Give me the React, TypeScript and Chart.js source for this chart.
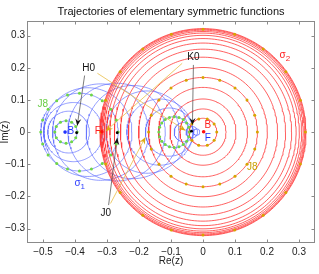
import { useEffect, useRef } from 'react';
import { Chart, registerables } from 'chart.js';

Chart.register(...registerables);

const FONT = '"Liberation Sans", Arial, Helvetica, sans-serif';
const TITLE = 'Trajectories of elementary symmetric functions';
const X_TICKS = [-0.5, -0.4, -0.3, -0.2, -0.1, 0, 0.1, 0.2, 0.3];
const Y_TICKS = [-0.3, -0.2, -0.1, 0, 0.1, 0.2, 0.3];

// sigma_1 trajectories: circles (centre on real axis, radius)
const SIGMA1_CENTERS = [-0.428, -0.42, -0.405, -0.386, -0.36, -0.32, -0.27, -0.22, -0.175, -0.135, -0.105, -0.09, -0.06, -0.035, -0.02];
const SIGMA1_RADII = [0.035, 0.065, 0.092, 0.121, 0.138, 0.15, 0.152, 0.145, 0.128, 0.103, 0.075, 0.048, 0.03, 0.018, 0.01];

// sigma_2 trajectories: circles (centre on real axis, radius)
const SIGMA2_CENTERS = [0, 0, 0, 0, 0, 0, 0, 0, 0, 0, 0, 0, 0, 0, 0, 0];
const SIGMA2_RADII = [0.043, 0.072, 0.103, 0.139, 0.17, 0.201, 0.233, 0.258, 0.277, 0.291, 0.301, 0.308, 0.313, 0.317, 0.32, 0.322];

// dotted J8 rings
const GREEN_RING_CENTERS = [-0.428, -0.386, -0.09];
const GREEN_RING_RADII = [0.035, 0.121, 0.048];
const GREEN_RING_DOTS = [12, 20, 20];
const ORANGE_RING_CENTERS = [0, 0, 0];
const ORANGE_RING_RADII = [0.043, 0.17, 0.32];
const ORANGE_RING_DOTS = [10, 20, 20];

// marker points
const BLUE_POINTS = [[-0.431, 0]];
const RED_POINTS = [[-0.316, 0.001], [0.002, 0.001]];
const BLACK_POINTS = [[-0.395, -0.002], [-0.268, -0.002], [-0.036, 0.003]];

// annotation arrows (from label to point)
const BLACK_ARROW_FROM = [[-0.37, 0.176], [-0.03, 0.209], [-0.295, -0.227]];
const BLACK_ARROW_TO = [[-0.393, 0.02], [-0.033, 0.022], [-0.268, -0.018]];
const ORANGE_ARROW_FROM = [[-0.33, 0.183], [-0.065, 0.214], [-0.289, -0.222]];
const ORANGE_ARROW_TO = [[-0.055, 0.005], [-0.304, 0.003], [-0.18, -0.016]];

// text labels
const LABEL_TEXT = ['H0', 'K0', 'J0', 'J8', 'J8', 'F', 'B', 'B', 'F'];
const LABEL_POS = [[-0.357, 0.199], [-0.03, 0.234], [-0.304, -0.252], [-0.501, 0.087], [0.154, -0.109], [-0.329, 0.003], [-0.413, 0.003], [0.015, 0.022], [0.015, -0.019]];
const LABEL_COLOR = ['#111', '#111', '#111', '#66cc44', '#c9a000', '#ff2020', '#2233ff', '#ff2020', '#2233ff'];
const SIGMA_TEXT = ['1', '2'];
const SIGMA_POS = [[-0.392, -0.159], [0.249, 0.24]];
const SIGMA_COLOR = ['#3344ff', '#ff2020'];

const BLUE = 'rgba(95,110,255,0.85)';
const RED = 'rgba(255,60,60,0.9)';
const GREEN_DOT = 'rgb(110,215,70)';
const ORANGE_DOT = 'rgb(215,165,0)';
const ORANGE_LINE = 'rgb(232,190,70)';

function circlePoints(cx: number, cy: number, r: number, n: number) {
  const pts = [];
  for (let i = 0; i <= n; i++) {
    const a = (2 * Math.PI * i) / n;
    pts.push({ x: cx + r * Math.cos(a), y: cy + r * Math.sin(a) });
  }
  return pts;
}

function ringDots(cx: number, r: number, n: number) {
  const pts = [];
  for (let i = 0; i < n; i++) {
    const a = (2 * Math.PI * i) / n;
    pts.push({ x: cx + r * Math.cos(a), y: r * Math.sin(a) });
  }
  return pts;
}

function fmt(v: number) {
  if (Math.abs(v) < 1e-9) return '0';
  return (v < 0 ? '\u2212' : '') + Math.abs(v).toFixed(1);
}

function arrowHead(ctx: CanvasRenderingContext2D, x0: number, y0: number, x1: number, y1: number, len: number, half: number, color: string) {
  const a = Math.atan2(y1 - y0, x1 - x0);
  const bx = x1 - len * Math.cos(a);
  const by = y1 - len * Math.sin(a);
  const nx = -Math.sin(a);
  const ny = Math.cos(a);
  const mx = x1 - len * 0.65 * Math.cos(a);
  const my = y1 - len * 0.65 * Math.sin(a);
  ctx.beginPath();
  ctx.moveTo(x1, y1);
  ctx.lineTo(bx + nx * half, by + ny * half);
  ctx.lineTo(mx, my);
  ctx.lineTo(bx - nx * half, by - ny * half);
  ctx.closePath();
  ctx.fillStyle = color;
  ctx.fill();
}

const annotatePlugin = {
  id: 'annotate',
  afterDatasetsDraw(chart: any) {
    const { ctx, chartArea, scales } = chart;
    const xs = scales.x;
    const ys = scales.y;
    const px = (v: number) => xs.getPixelForValue(v);
    const py = (v: number) => ys.getPixelForValue(v);
    ctx.save();
    // arrow heads
    BLACK_ARROW_FROM.forEach((f, i) => {
      const t = BLACK_ARROW_TO[i];
      arrowHead(ctx, px(f[0]), py(f[1]), px(t[0]), py(t[1]), 7, 3, '#111');
    });
    ORANGE_ARROW_FROM.forEach((f, i) => {
      const t = ORANGE_ARROW_TO[i];
      arrowHead(ctx, px(f[0]), py(f[1]), px(t[0]), py(t[1]), 7, 3, 'rgb(220,170,20)');
    });
    // labels
    ctx.textAlign = 'center';
    ctx.textBaseline = 'middle';
    ctx.font = '10px ' + FONT;
    LABEL_TEXT.forEach((s, i) => {
      ctx.fillStyle = LABEL_COLOR[i];
      ctx.fillText(s, px(LABEL_POS[i][0]), py(LABEL_POS[i][1]));
    });
    SIGMA_TEXT.forEach((s, i) => {
      const x = px(SIGMA_POS[i][0]);
      const y = py(SIGMA_POS[i][1]);
      ctx.fillStyle = SIGMA_COLOR[i];
      ctx.font = '10px ' + FONT;
      ctx.textAlign = 'center';
      ctx.fillText('\u03c3', x, y);
      ctx.font = '8px ' + FONT;
      ctx.textAlign = 'left';
      ctx.fillText(s, x + 3, y + 4);
    });
    // frame and inward ticks
    const l = Math.round(chartArea.left) + 0.5;
    const r = Math.round(chartArea.right) - 0.5;
    const t = Math.round(chartArea.top) + 0.5;
    const b = Math.round(chartArea.bottom) - 0.5;
    ctx.strokeStyle = '#8a8a8a';
    ctx.lineWidth = 1;
    ctx.strokeRect(l, t, r - l, b - t);
    ctx.beginPath();
    X_TICKS.forEach((v) => {
      const x = Math.round(px(v)) + 0.5;
      ctx.moveTo(x, b);
      ctx.lineTo(x, b - 3);
      ctx.moveTo(x, t);
      ctx.lineTo(x, t + 3);
    });
    Y_TICKS.forEach((v) => {
      const y = Math.round(py(v)) + 0.5;
      ctx.moveTo(l, y);
      ctx.lineTo(l + 3, y);
      ctx.moveTo(r, y);
      ctx.lineTo(r - 3, y);
    });
    ctx.stroke();
    ctx.restore();
  },
};

export default function App() {
  const ref = useRef<HTMLCanvasElement | null>(null);

  useEffect(() => {
    if (!ref.current) return;
    const datasets: any[] = [];
    SIGMA1_CENTERS.forEach((c, i) => {
      datasets.push({
        data: circlePoints(c, 0, SIGMA1_RADII[i], 160),
        showLine: true, borderColor: BLUE, borderWidth: 0.8, pointRadius: 0, order: 5,
      });
    });
    SIGMA2_CENTERS.forEach((c, i) => {
      datasets.push({
        data: circlePoints(c, 0, SIGMA2_RADII[i], 200),
        showLine: true, borderColor: RED, borderWidth: 0.9, pointRadius: 0, order: 4,
      });
    });
    ORANGE_ARROW_FROM.forEach((f, i) => {
      const t = ORANGE_ARROW_TO[i];
      datasets.push({
        data: [{ x: f[0], y: f[1] }, { x: t[0], y: t[1] }],
        showLine: true, borderColor: ORANGE_LINE, borderWidth: 0.8, pointRadius: 0, order: 3,
      });
    });
    BLACK_ARROW_FROM.forEach((f, i) => {
      const t = BLACK_ARROW_TO[i];
      datasets.push({
        data: [{ x: f[0], y: f[1] }, { x: t[0], y: t[1] }],
        showLine: true, borderColor: '#444', borderWidth: 0.7, pointRadius: 0, order: 2,
      });
    });
    GREEN_RING_CENTERS.forEach((c, i) => {
      datasets.push({
        data: ringDots(c, GREEN_RING_RADII[i], GREEN_RING_DOTS[i]),
        showLine: false, pointRadius: 1.5, pointBackgroundColor: GREEN_DOT, pointBorderWidth: 0, order: 1,
      });
    });
    ORANGE_RING_CENTERS.forEach((c, i) => {
      datasets.push({
        data: ringDots(c, ORANGE_RING_RADII[i], ORANGE_RING_DOTS[i]),
        showLine: false, pointRadius: 1.5, pointBackgroundColor: ORANGE_DOT, pointBorderWidth: 0, order: 1,
      });
    });
    datasets.push({ data: BLUE_POINTS.map((p) => ({ x: p[0], y: p[1] })), pointRadius: 1.8, pointBackgroundColor: '#2233ff', pointBorderWidth: 0, order: 0 });
    datasets.push({ data: RED_POINTS.map((p) => ({ x: p[0], y: p[1] })), pointRadius: 1.8, pointBackgroundColor: '#ff1010', pointBorderWidth: 0, order: 0 });
    datasets.push({ data: BLACK_POINTS.map((p) => ({ x: p[0], y: p[1] })), pointRadius: 1.4, pointBackgroundColor: '#000', pointBorderWidth: 0, order: 0 });

    const chart = new Chart(ref.current, {
      type: 'scatter',
      data: { datasets },
      options: {
        animation: false,
        responsive: false,
        events: [],
        layout: { padding: { left: 0, right: 3, top: 0, bottom: 0 } },
        plugins: {
          legend: { display: false },
          tooltip: { enabled: false },
          title: {
            display: true, text: TITLE, fullSize: false, color: '#111',
            font: { size: 11, family: FONT, weight: 'normal', lineHeight: 1.2 },
            padding: { top: 5, bottom: 3 },
          },
        },
        scales: {
          x: {
            type: 'linear', min: -0.55, max: 0.35,
            afterBuildTicks: (s: any) => { s.ticks = X_TICKS.map((value) => ({ value })); },
            afterFit: (s: any) => { s.height = 31; },
            ticks: { callback: (v: any) => fmt(Number(v)), font: { size: 10, family: FONT }, color: '#222', padding: 3, maxRotation: 0, autoSkip: false },
            grid: { display: false, drawTicks: false },
            border: { display: false },
            title: { display: true, text: 'Re(z)', color: '#222', font: { size: 10, family: FONT, lineHeight: 1.2 }, padding: { top: 0, bottom: 7 } },
          },
          y: {
            type: 'linear', min: -0.345, max: 0.345,
            afterBuildTicks: (s: any) => { s.ticks = Y_TICKS.map((value) => ({ value })); },
            afterFit: (s: any) => { s.width = 27; },
            ticks: { callback: (v: any) => fmt(Number(v)), font: { size: 10, family: FONT }, color: '#222', padding: 2, autoSkip: false },
            grid: { display: false, drawTicks: false },
            border: { display: false },
            title: { display: true, text: 'Im(z)', color: '#222', font: { size: 10, family: FONT, lineHeight: 1 }, padding: { top: 0, bottom: 0 } },
          },
        },
      } as any,
      plugins: [annotatePlugin],
    });
    return () => chart.destroy();
  }, []);

  return (
    <div style={{ position: 'absolute', left: 0, top: 0, width: 319, height: 274, background: '#fff' }}>
      <canvas ref={ref} width={319} height={274} style={{ display: 'block' }} />
    </div>
  );
}
